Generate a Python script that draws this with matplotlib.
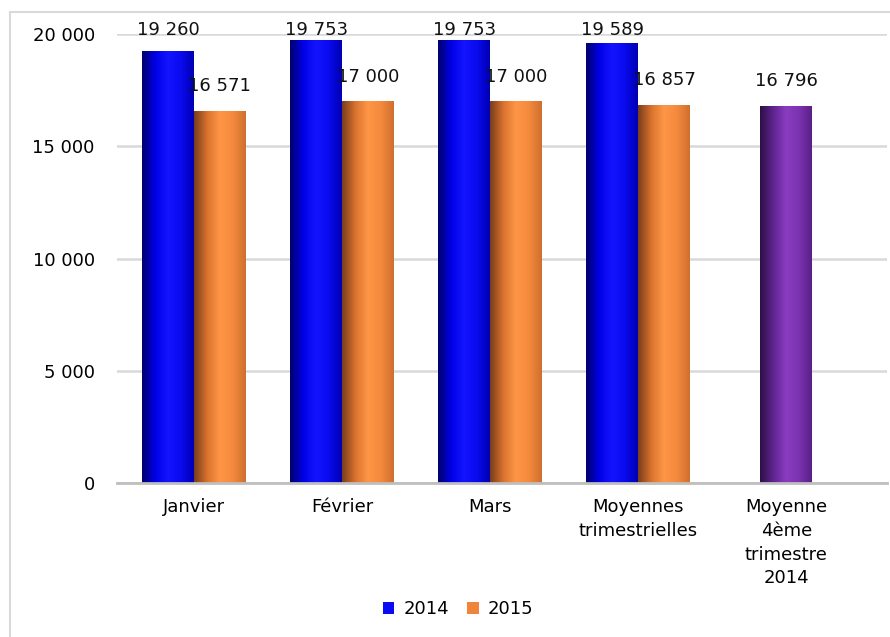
import matplotlib.pyplot as plt
import matplotlib.patches as mpatches
from matplotlib.colors import LinearSegmentedColormap
import numpy as np

categories = ["Janvier", "Février", "Mars", "Moyennes\ntrimestrielles",
              "Moyenne\n4ème\ntrimestre\n2014"]
vals_2014 = [19260, 19753, 19753, 19589]
vals_2015 = [16571, 17000, 17000, 16857]
val_q4 = 16796

# shading across each bar: dark edge -> bright -> slightly dark edge
shade_2014 = ["#00006E", "#0000E6", "#1414FF", "#0A0AF0", "#0000B4"]
shade_2015 = ["#7A3E1C", "#D8722E", "#FF9646", "#F58A3E", "#D0702E"]
shade_q4 = ["#2E1048", "#5E2490", "#8A3CC0", "#7C34B0", "#5A2088"]


def fmt(v):
    return "{:,}".format(v).replace(",", " ")


def shade(ax, bars, colors):
    cmap = LinearSegmentedColormap.from_list("s", colors)
    grad = np.linspace(0, 1, 64).reshape(1, -1)
    for r in bars:
        x0, w, h = r.get_x(), r.get_width(), r.get_height()
        im = ax.imshow(grad, cmap=cmap, aspect="auto", extent=(x0, x0 + w, 0, h),
                       zorder=3, interpolation="bicubic")
        im.set_clip_path(r)


plt.rcParams['font.family'] = ['DejaVu Sans']

fig = plt.figure(figsize=(8.9, 6.37), dpi=100)
# outer chart frame (only top and left visible)
fig.patches.append(mpatches.Rectangle((10 / 890, -0.1), 2.0, 1 - 12 / 637 + 0.1,
                                      transform=fig.transFigure, fill=False,
                                      edgecolor="#D9D9D9", lw=1.5))
ax = fig.add_axes([117 / 890, 1 - 483 / 637, 770 / 890, (483 - 34) / 637])

x = np.arange(len(categories))
w = 0.35
b1 = ax.bar(x[:4] - w / 2, vals_2014, w, color="#0A0AF5", zorder=3, label="2014")
b2 = ax.bar(x[:4] + w / 2, vals_2015, w, color="#F0843C", zorder=3, label="2015")
b3 = ax.bar(x[4], val_q4, w, color="#7232A8", zorder=3)
shade(ax, b1, shade_2014)
shade(ax, b2, shade_2015)
shade(ax, b3, shade_q4)

for bars, vals in [(b1, vals_2014), (b2, vals_2015), (b3, [val_q4])]:
    for r, v in zip(bars, vals):
        ax.text(r.get_x() + r.get_width() / 2, min(v + 1100, 20170), fmt(v),
                ha="center", va="center", fontsize=13, color="#111111",
                clip_on=False, zorder=5)

ax.set_xlim(-0.52, 4.68)
ax.set_ylim(0, 20000)
ax.set_yticks(np.arange(0, 20001, 5000))
ax.set_yticklabels([fmt(v) for v in range(0, 20001, 5000)])
ax.set_xticks(x)
ax.set_xticklabels(categories, fontsize=13, linespacing=1.41)
ax.tick_params(axis="y", labelsize=13, length=0, pad=16)
ax.tick_params(axis="x", length=0, pad=11)
ax.grid(axis="y", color="#D9D9D9", lw=1.8, zorder=0)
for s in ["top", "right", "left"]:
    ax.spines[s].set_visible(False)
ax.spines["bottom"].set_color("#BFBFBF")
ax.spines["bottom"].set_linewidth(2)
ax.spines["bottom"].set_zorder(4)

fig.legend(handles=[b1, b2], labels=["2014", "2015"], loc="center",
           bbox_to_anchor=(458 / 890, 1 - 609 / 637), ncol=2, frameon=False,
           fontsize=13, handlelength=0.65, handleheight=0.65, handletextpad=0.5,
           columnspacing=1.0)

fig.savefig("out.png", dpi=100)
